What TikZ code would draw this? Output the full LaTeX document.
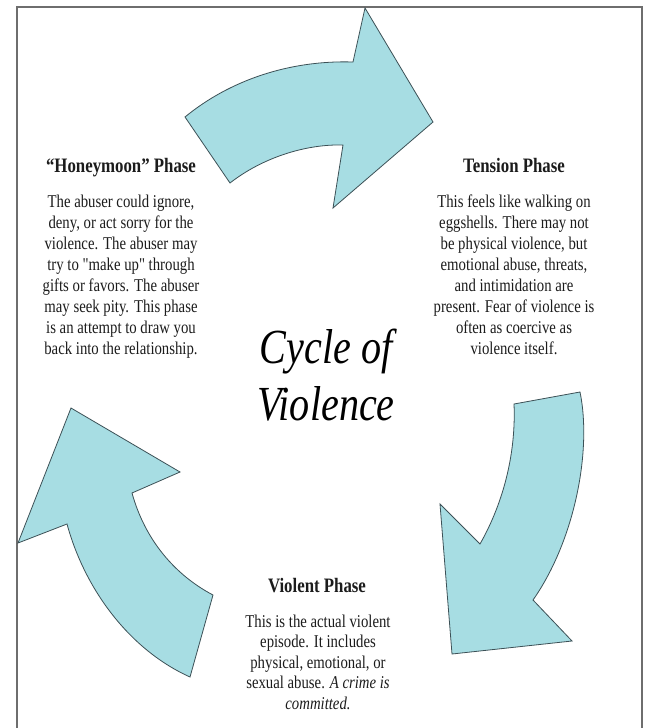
\documentclass[tikz,border=0pt]{standalone}
\usepackage{fontspec}
\newfontfamily\cond[FakeStretch=0.82]{Liberation Serif}
\definecolor{arrowfill}{RGB}{167,221,227}
\definecolor{arrowline}{RGB}{60,80,86}
\definecolor{framecol}{RGB}{110,110,110}
\definecolor{textcol}{RGB}{28,28,28}
\tikzset{
  cyclearrow/.style={fill=arrowfill, draw=arrowline, line width=0.8pt, line join=miter},
  phasetitle/.style={font=\cond\bfseries\fontsize{20.5}{24}\selectfont, text=textcol, inner sep=0pt, anchor=base},
  phasebody/.style={font=\cond\fontsize{18}{21}\selectfont, align=center, text=textcol, inner sep=0pt, anchor=north},
  bigtitle/.style={font=\cond\itshape\fontsize{49}{57}\selectfont, align=center, text=black, inner sep=0pt, anchor=north}
}
\begin{document}
\begin{tikzpicture}[x=1pt,y=-1pt]
\useasboundingbox (0,0) rectangle (647,728);
\fill[white] (0,0) rectangle (647,728);
% frame (open at the bottom)
\draw[framecol, line width=2pt] (17,728) -- (17,7) -- (642,7) -- (642,728);

% top arrow: Honeymoon -> Tension
\draw[cyclearrow] (185,117) .. controls (230,80) and (290,60) .. (353,62)
  -- (365,8) -- (433,122) -- (333,208) -- (343,145)
  .. controls (305,144) and (262,158) .. (230,183) -- cycle;

% right arrow: Tension -> Violent
\draw[cyclearrow] (514,404) -- (580,392)
  .. controls (592,450) and (575,540) .. (533,600)
  -- (572,641) -- (452,654) -- (440,504) -- (480,544)
  .. controls (505,500) and (516,450) .. (514,404) -- cycle;

% left arrow: Violent -> Honeymoon
\draw[cyclearrow] (71,408) -- (180,472) -- (132,493)
  .. controls (145,540) and (175,575) .. (213,595)
  -- (190,677)
  .. controls (130,650) and (85,590) .. (67,524)
  -- (18,543) -- cycle;

% texts
\node[phasetitle] (honeyT) at (121,172) {“Honeymoon” Phase};
\node[phasebody] (honeyB) at (121,194.5) {The abuser could ignore,\\deny, or act sorry for the\\violence. The abuser may\\try to "make up" through\\gifts or favors. The abuser\\may seek pity. This phase\\is an attempt to draw you\\back into the relationship.};

\node[phasetitle] (tensionT) at (514,172) {Tension Phase};
\node[phasebody] (tensionB) at (514,194.5) {This feels like walking on\\eggshells. There may not\\be physical violence, but\\emotional abuse, threats,\\and intimidation are\\present. Fear of violence is\\often as coercive as\\violence itself.};

\node[phasetitle] (violentT) at (317,592) {Violent Phase};
\node[phasebody, font=\cond\fontsize{18}{20.5}\selectfont] (violentB) at (318,614.5) {This is the actual violent\\episode. It includes\\physical, emotional, or\\sexual abuse. \textit{A crime is}\\\textit{committed.}};

\node[bigtitle] (cycle) at (326,329) {Cycle of\\Violence};
\end{tikzpicture}
\end{document}
